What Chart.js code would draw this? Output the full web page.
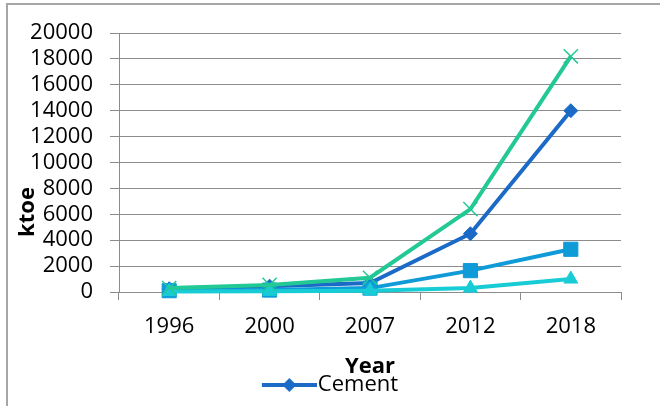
<!DOCTYPE html>
<html>
<head>
<meta charset="utf-8">
<script src="https://cdn.jsdelivr.net/npm/chart.js@4/dist/chart.umd.min.js"></script>
<style>
  html, body { margin: 0; padding: 0; background: #fff; overflow: hidden; }
  #wrap { position: relative; width: 660px; height: 406px; overflow: hidden; }
  #frame { position: absolute; left: 6px; top: 3px; width: 800px; height: 600px;
           border-top: 2px solid #a6a6a6; border-left: 2px solid #a6a6a6; }
  #chart { position: absolute; left: 0; top: 0; }
</style>
</head>
<body>
<div id="wrap">
  <div id="frame"></div>
  <canvas id="chart" width="660" height="406"></canvas>
</div>
<script>
// Years on the category axis
const years = ['1996', '2000', '2007', '2012', '2018'];

// Energy use per series, ktoe
const cement   = [250, 450, 700, 4500, 14000];
const series2  = [100, 150, 300, 1650, 3300];
const series3  = [30, 50, 100, 300, 1000];
const series4  = [300, 550, 1100, 6400, 18200];

// Value axis ticks
const yMin = 0;
const yMax = 20000;
const yStep = 2000;

const FONT = '"Open Sans", "Noto Sans", sans-serif';
const GRID = '#8c8c8c';

const colors = {
  cement: '#1a6ac6',
  s2: '#0e9bd8',
  s3: '#18ccd6',
  s4: '#22c994'
};

// Legend symbol: a short line with a diamond in the middle, drawn in the
// right part of a wider transparent canvas so it sits next to the text
function legendSymbol(color) {
  const c = document.createElement('canvas');
  c.width = 84; c.height = 16;
  const g = c.getContext('2d');
  const x0 = 29, x1 = 84, mid = (x0 + x1) / 2;
  g.strokeStyle = color;
  g.lineWidth = 4;
  g.beginPath(); g.moveTo(x0, 8); g.lineTo(x1, 8); g.stroke();
  g.fillStyle = color;
  g.beginPath();
  g.moveTo(mid - 7, 8); g.lineTo(mid, 1); g.lineTo(mid + 7, 8); g.lineTo(mid, 15);
  g.closePath(); g.fill();
  return c;
}

// Rotated value-axis caption
const yCaption = {
  id: 'yCaption',
  afterDraw(chart) {
    const ctx = chart.ctx;
    ctx.save();
    ctx.translate(28, 212);
    ctx.rotate(-Math.PI / 2);
    ctx.font = 'bold 22px ' + FONT;
    ctx.fillStyle = '#000';
    ctx.textAlign = 'center';
    ctx.textBaseline = 'middle';
    ctx.fillText('ktoe', 0, 0);
    ctx.restore();
  }
};

function lineSet(label, data, color, style, radius, pbw, order) {
  return {
    label, data,
    borderColor: color,
    backgroundColor: color,
    borderWidth: 4,
    pointStyle: style,
    pointRadius: radius,
    pointBorderWidth: pbw,
    pointBackgroundColor: color,
    pointBorderColor: color,
    tension: 0,
    clip: false,
    order
  };
}

new Chart(document.getElementById('chart'), {
  type: 'line',
  data: {
    labels: years,
    datasets: [
      lineSet('Cement', cement, colors.cement, 'rectRot', 7, 1, 4),
      lineSet('Series 2', series2, colors.s2, 'rect', 10, 1, 3),
      lineSet('Series 3', series3, colors.s3, 'triangle', 8, 1, 2),
      lineSet('Series 4', series4, colors.s4, 'crossRot', 10, 1.5, 1)
    ]
  },
  options: {
    responsive: false,
    animation: false,
    devicePixelRatio: 1,
    layout: { padding: { left: 20, right: 39, top: 33, bottom: 0 } },
    plugins: {
      tooltip: { enabled: false },
      legend: {
        position: 'bottom',
        labels: {
          filter: (item) => item.text === 'Cement',
          usePointStyle: true,
          pointStyle: legendSymbol(colors.cement),
          pointStyleWidth: 64,
          padding: 10,
          color: '#000',
          font: { family: FONT, size: 22 }
        }
      }
    },
    scales: {
      x: {
        offset: true,
        grid: { offset: true, drawOnChartArea: false, drawTicks: true, tickLength: 8, color: GRID, lineWidth: 1 },
        border: { color: GRID, width: 1 },
        ticks: { color: '#000', font: { family: FONT, size: 22 }, padding: 14, maxRotation: 0, autoSkip: false },
        title: {
          display: true, text: 'Year', color: '#000',
          font: { family: FONT, size: 22, weight: 'bold' },
          padding: { top: 0, bottom: -16 }
        },
        afterFit(scale) { scale.height = 72; }
      },
      y: {
        min: yMin, max: yMax,
        grid: { color: GRID, lineWidth: 1, tickLength: 9 },
        border: { color: GRID, width: 1 },
        ticks: {
          stepSize: yStep, padding: 17, color: '#000', autoSkip: false,
          font: { family: FONT, size: 22 },
          callback: (v) => String(v)
        },
        afterFit(scale) { scale.width = 99; }
      }
    }
  },
  plugins: [yCaption]
});
</script>
</body>
</html>
